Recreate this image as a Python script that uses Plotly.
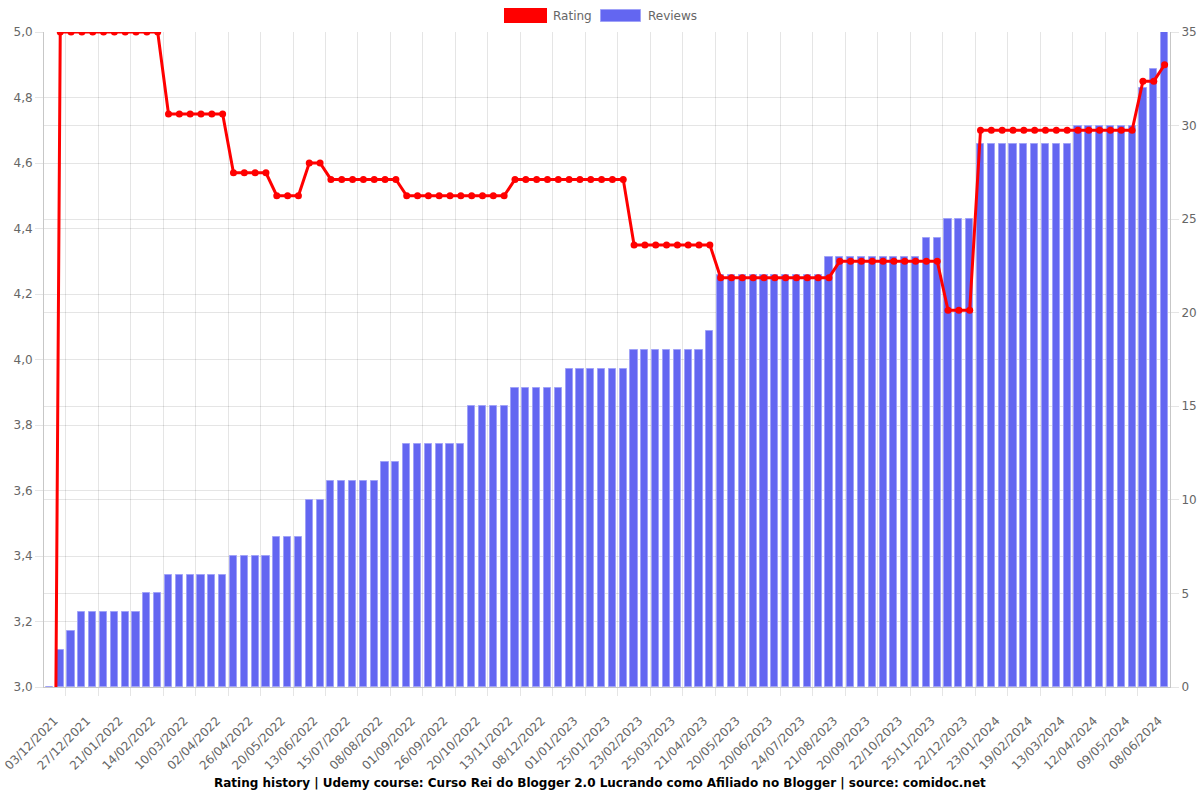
import plotly.graph_objects as go

# ---- data ----
tick_labels = [
    "03/12/2021", "27/12/2021", "21/01/2022", "14/02/2022", "10/03/2022", "02/04/2022",
    "26/04/2022", "20/05/2022", "13/06/2022", "15/07/2022", "08/08/2022", "01/09/2022",
    "26/09/2022", "20/10/2022", "13/11/2022", "08/12/2022", "01/01/2023", "25/01/2023",
    "23/02/2023", "25/03/2023", "21/04/2023", "20/05/2023", "20/06/2023", "24/07/2023",
    "21/08/2023", "20/09/2023", "22/10/2023", "25/11/2023", "22/12/2023", "23/01/2024",
    "19/02/2024", "13/03/2024", "12/04/2024", "09/05/2024", "08/06/2024",
]

reviews = (
    [0, 2, 3] + [4] * 6 + [5] * 2 + [6] * 6 + [7] * 4 + [8] * 3 + [10] * 2 + [11] * 5
    + [12] * 2 + [13] * 6 + [15] * 4 + [16] * 5 + [17] * 6 + [18] * 7 + [19] + [22] * 10
    + [23] * 9 + [24] * 2 + [25] * 3 + [29] * 9 + [30] * 6 + [32, 33, 35]
)

rating = (
    [0] + [5.0] * 10 + [4.75] * 6 + [4.57] * 4 + [4.5] * 3 + [4.6] * 2 + [4.55] * 7
    + [4.5] * 10 + [4.55] * 11 + [4.35] * 8 + [4.25] * 11 + [4.3] * 10 + [4.15] * 3
    + [4.7] * 15 + [4.85] * 2 + [4.9]
)

x_index = list(range(len(reviews)))
label_positions = x_index[::3][:len(tick_labels)]
grid_positions = [p + 1.5 for p in label_positions[:-1]]

# ---- styling ----
GRID = "rgba(0,0,0,0.1)"
AXIS = "rgba(0,0,0,0.22)"
TICKFONT = dict(family="DejaVu Sans", size=12, color="#666666")
BAR = "rgb(99,102,241)"
RED = "#ff0000"

L, R, T, B = 44, 30, 32, 113
W, H = 1200, 800
PW, PH = W - L - R, H - T - B


def px(X):
    return (X - L) / PW


def py(Y):
    return (H - B - Y) / PH


fig = go.Figure()
fig.add_trace(go.Bar(
    x=x_index, y=reviews, name="Reviews", yaxis="y",
    width=0.66,
    marker=dict(color=BAR, line=dict(color="rgba(160,162,248,1)", width=1)),
    showlegend=False,
))
fig.add_trace(go.Scatter(
    x=x_index, y=rating, name="Rating", yaxis="y2",
    mode="lines+markers",
    line=dict(color=RED, width=3),
    marker=dict(color=RED, size=7),
    showlegend=False,
))

fig.update_layout(
    width=W, height=H,
    margin=dict(l=L, r=R, t=T, b=B, autoexpand=False),
    paper_bgcolor="white", plot_bgcolor="white",
    separators=", ",
    font=dict(family="DejaVu Sans", size=12, color="#666666"),
    bargap=0,
    showlegend=False,
    xaxis=dict(
        type="linear", range=[-0.5, len(reviews) - 0.5],
        tickmode="array", tickvals=label_positions, ticktext=tick_labels,
        tickangle=-45, tickfont=TICKFONT, ticklabeloverflow="allow",
        ticklabelshift=5, ticklabelstandoff=13,
        ticks="outside", ticklen=8, tickcolor="rgba(0,0,0,0)",
        showgrid=False, zeroline=False, automargin=False,
        showline=True, linecolor=AXIS, linewidth=1,
        minor=dict(tickmode="array", tickvals=grid_positions, showgrid=True,
                   gridcolor=GRID, gridwidth=1, ticks="outside", ticklen=8,
                   tickcolor=GRID),
    ),
    yaxis=dict(
        side="right", range=[0, 35], dtick=5, tick0=0,
        showgrid=True, gridcolor=GRID, zeroline=False, automargin=False,
        ticks="outside", ticklen=8, tickcolor=GRID,
        showline=True, linecolor=AXIS, tickfont=TICKFONT,
    ),
    yaxis2=dict(
        overlaying="y", side="left", range=[3, 5], dtick=0.2, tick0=3,
        tickformat=".1f", automargin=False,
        showgrid=True, gridcolor=GRID, zeroline=False,
        ticks="outside", ticklen=8, tickcolor=GRID,
        showline=True, linecolor=AXIS, tickfont=TICKFONT,
    ),
)

# legend (Chart.js style boxes at the top)
fig.add_shape(type="rect", xref="paper", yref="paper",
              x0=px(505.5), x1=px(545.5), y0=py(9.5), y1=py(21.5),
              fillcolor=RED, line=dict(color=RED, width=3))
fig.add_shape(type="rect", xref="paper", yref="paper",
              x0=px(600.5), x1=px(640.5), y0=py(9.5), y1=py(21.5),
              fillcolor=BAR, line=dict(color="rgba(160,162,248,1)", width=1))
fig.add_annotation(xref="paper", yref="paper", x=px(551), y=py(16),
                   text="Rating", showarrow=False, xanchor="left", yanchor="middle",
                   font=dict(family="DejaVu Sans", size=12, color="#666666"))
fig.add_annotation(xref="paper", yref="paper", x=px(646), y=py(16),
                   text="Reviews", showarrow=False, xanchor="left", yanchor="middle",
                   font=dict(family="DejaVu Sans", size=12, color="#666666"))

# bottom title
fig.add_annotation(
    xref="paper", yref="paper", x=px(600), y=py(783),
    text="<b>Rating history | Udemy course: Curso Rei do Blogger 2.0 Lucrando como Afiliado no Blogger | source: comidoc.net</b>",
    showarrow=False, xanchor="center", yanchor="middle",
    font=dict(family="DejaVu Sans", size=12, color="#000000"),
)

fig.write_html("out.html")
